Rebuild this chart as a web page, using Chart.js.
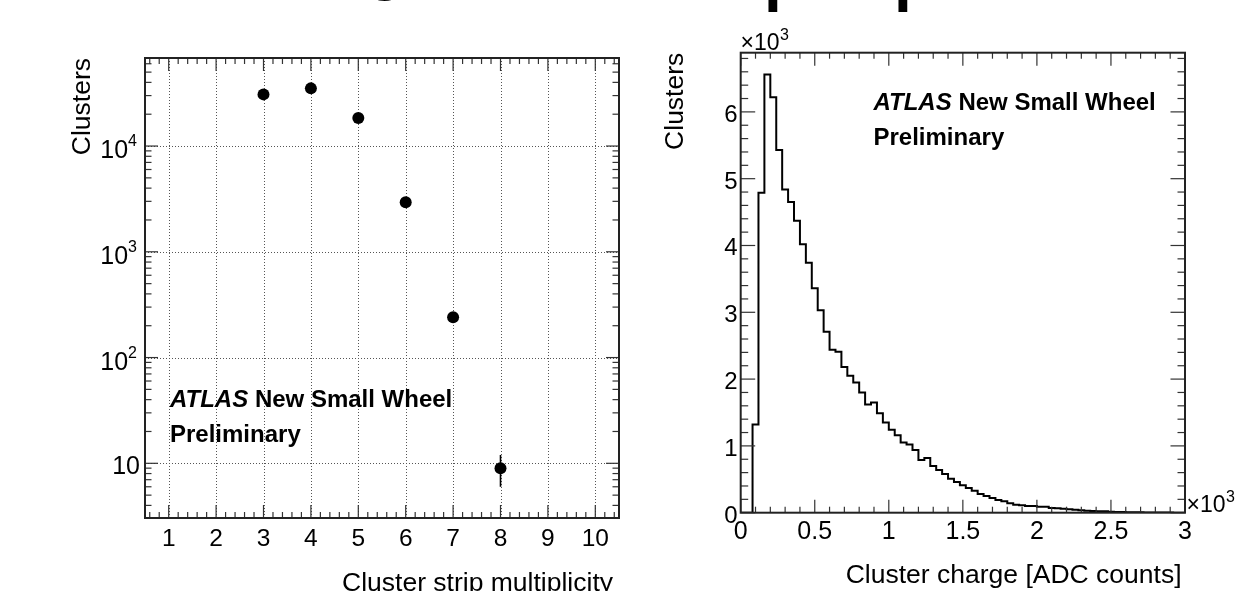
<!DOCTYPE html>
<html>
<head>
<meta charset="utf-8">
<script src="https://cdn.jsdelivr.net/npm/chart.js@4/dist/chart.umd.min.js"></script>
<style>
    html, body { margin: 0; padding: 0; background: #fff; }
    #wrap { position: relative; width: 1245px; height: 591px; overflow: hidden; }
    canvas { position: absolute; top: 0; }
    #mult_chart { left: 0; }
    #charge_chart { left: 630px; }
</style>
</head>
<body>
<div id="wrap">
    <canvas id="mult_chart" width="630" height="591"></canvas>
    <canvas id="charge_chart" width="615" height="591"></canvas>
</div>
<script>
// left pad: cluster strip multiplicity (log y)
const multStrips = [3, 4, 5, 6, 7, 8];
const multClusters = [30800, 35100, 18400, 2940, 240, 9];
const multErrors = [175, 187, 136, 54, 15, 3];
const multXTicks = [1, 2, 3, 4, 5, 6, 7, 8, 9, 10];
const multYTicks = [10, 100, 1000, 10000];
const multYTickExp = ['', '2', '3', '4'];

// right pad: cluster charge histogram, 40 ADC count bins from 0 to 3000
const chargeBinWidth = 40;
const chargeCounts = [
    0, 0, 1320, 4790, 6560, 6220, 5430, 4840, 4650, 4370,
    4020, 3740, 3360, 3030, 2710, 2440, 2410, 2180, 2050, 1950,
    1800, 1620, 1650, 1490, 1350, 1240, 1160, 1050, 1020, 940,
    790, 820, 700, 640, 580, 510, 460, 410, 370, 330,
    280, 250, 220, 190, 170, 140, 120, 110, 100, 100,
    90, 90, 70, 65, 60, 50, 45, 35, 30, 25,
    20, 20, 15, 12, 10, 8, 6, 5, 4, 3,
    3, 2, 2, 1, 1
];
const chargeXTicks = [0, 500, 1000, 1500, 2000, 2500, 3000];
const chargeXLabels = ['0', '0.5', '1', '1.5', '2', '2.5', '3'];
const chargeYTicks = [0, 1000, 2000, 3000, 4000, 5000, 6000];
const chargeYLabels = ['0', '1', '2', '3', '4', '5', '6'];

const FONT = '"Liberation Sans", Arial, Helvetica, sans-serif';

function draw_line(ctx, x1, y1, x2, y2) {
    ctx.beginPath();
    ctx.moveTo(x1, y1);
    ctx.lineTo(x2, y2);
    ctx.stroke();
}

function draw_text(ctx, txt, x, y, font, align) {
    ctx.font = font;
    ctx.textAlign = align || 'left';
    ctx.textBaseline = 'alphabetic';
    ctx.fillStyle = '#000';
    ctx.fillText(txt, x, y);
}

// ROOT style frame with ticks inside on all four sides
function draw_frame(chart, xTicks, yTicks) {
    var ctx = chart.ctx, a = chart.chartArea;
    var xs = chart.scales.x, ys = chart.scales.y;
    ctx.save();
    ctx.strokeStyle = '#333';
    ctx.lineWidth = 1.2;
    xTicks.forEach(function (t) {
        var px = xs.getPixelForValue(t[0]);
        draw_line(ctx, px, a.bottom, px, a.bottom - t[1]);
        draw_line(ctx, px, a.top, px, a.top + t[1]);
    });
    yTicks.forEach(function (t) {
        var py = ys.getPixelForValue(t[0]);
        draw_line(ctx, a.left, py, a.left + t[1], py);
        draw_line(ctx, a.right, py, a.right - t[1], py);
    });
    ctx.strokeStyle = '#222';
    ctx.lineWidth = 2;
    ctx.strokeRect(a.left, a.top, a.right - a.left, a.bottom - a.top);
    ctx.restore();
}

function draw_atlas(ctx, x, y1, y2) {
    ctx.font = 'italic bold 24px ' + FONT;
    var w = ctx.measureText('ATLAS').width;
    draw_text(ctx, 'ATLAS', x, y1, 'italic bold 24px ' + FONT);
    draw_text(ctx, ' New Small Wheel', x + w, y1, 'bold 24px ' + FONT);
    draw_text(ctx, 'Preliminary', x, y2, 'bold 24px ' + FONT);
}

function draw_ytitle(ctx, txt, x, yTop) {
    ctx.save();
    ctx.translate(x, yTop);
    ctx.rotate(-Math.PI / 2);
    draw_text(ctx, txt, 0, 0, '26.5px ' + FONT, 'right');
    ctx.restore();
}

// ---- left chart ----
var multXTickList = [];
for (var k = 0; k <= 10; k++) {
    if (k >= 1) multXTickList.push([k, 13]);
    for (var j = 1; j <= 4; j++) {
        var v = k + 0.2 * j;
        if (v > 0.5 && v < 10.5) multXTickList.push([v, 6]);
    }
}
var multYTickList = [];
[1, 10, 100, 1000, 10000].forEach(function (d) {
    if (d >= 10) multYTickList.push([d, 13]);
    for (var m = 2; m <= 9; m++) {
        if (m * d >= 3.04 && m * d <= 68000) multYTickList.push([m * d, 6.5]);
    }
});

var multPlugin = {
    id: 'multRoot',
    beforeDatasetsDraw: function (chart) {
        var ctx = chart.ctx, a = chart.chartArea;
        ctx.save();
        ctx.strokeStyle = '#555';
        ctx.lineWidth = 1;
        ctx.setLineDash([1, 2]);
        multXTicks.forEach(function (v) {
            var px = Math.round(chart.scales.x.getPixelForValue(v)) + 0.5;
            draw_line(ctx, px, a.top, px, a.bottom);
        });
        multYTicks.forEach(function (v) {
            var py = Math.round(chart.scales.y.getPixelForValue(v)) + 0.5;
            draw_line(ctx, a.left, py, a.right, py);
        });
        ctx.restore();
    },
    afterDatasetsDraw: function (chart) {
        var ctx = chart.ctx;
        ctx.save();
        ctx.strokeStyle = '#000';
        ctx.lineWidth = 1.6;
        multStrips.forEach(function (s, i) {
            var px = chart.scales.x.getPixelForValue(s);
            var lo = chart.scales.y.getPixelForValue(multClusters[i] - multErrors[i]);
            var hi = chart.scales.y.getPixelForValue(multClusters[i] + multErrors[i]);
            draw_line(ctx, px, lo, px, hi);
        });
        ctx.restore();
    },
    afterDraw: function (chart) {
        var ctx = chart.ctx;
        draw_frame(chart, multXTickList, multYTickList);
        multXTicks.forEach(function (v) {
            draw_text(ctx, String(v), chart.scales.x.getPixelForValue(v), 546, '24.5px ' + FONT, 'center');
        });
        multYTicks.forEach(function (v, i) {
            var py = chart.scales.y.getPixelForValue(v);
            var exp = multYTickExp[i];
            if (exp === '') {
                draw_text(ctx, '10', 140, py + 10.5, '25px ' + FONT, 'right');
            } else {
                ctx.font = '16px ' + FONT;
                var ew = ctx.measureText(exp).width;
                draw_text(ctx, exp, 137, py, '16px ' + FONT, 'right');
                draw_text(ctx, '10', 137 - ew, py + 12, '25px ' + FONT, 'right');
            }
        });
        draw_ytitle(ctx, 'Clusters', 90, 58);
        draw_text(ctx, 'Cluster strip multiplicity', 613, 590.5, '26.5px ' + FONT, 'right');
        draw_atlas(ctx, 170, 407, 442);
        // bottom of the slide title, cut off at the top edge
        draw_text(ctx, 'g', 366, -12.5, 'bold 64px ' + FONT, 'left');
    }
};

new Chart(document.getElementById('mult_chart'), {
    type: 'scatter',
    data: {
        datasets: [{
            data: multStrips.map(function (s, i) { return {x: s, y: multClusters[i]}; }),
            backgroundColor: '#000',
            borderColor: '#000',
            pointRadius: 6,
            pointHoverRadius: 6,
            borderWidth: 0
        }]
    },
    options: {
        responsive: false,
        animation: false,
        layout: {padding: {left: 145, top: 58, right: 11, bottom: 73}},
        plugins: {legend: {display: false}, tooltip: {enabled: false}},
        scales: {
            x: {type: 'linear', min: 0.5, max: 10.5, display: false},
            y: {type: 'logarithmic', min: 3.04, max: 68000, display: false}
        }
    },
    plugins: [multPlugin]
});

// ---- right chart ----
var chargePoints = chargeCounts.map(function (c, i) { return {x: i * chargeBinWidth, y: c}; });
chargePoints.push({x: chargeCounts.length * chargeBinWidth, y: chargeCounts[chargeCounts.length - 1]});

var chargeXTickList = [];
for (var q = 0; q <= 3000; q += 100) chargeXTickList.push([q, q % 500 === 0 ? 13 : 6]);
var chargeYTickList = [];
for (var r = 0; r <= 6886; r += 200) chargeYTickList.push([r, r % 1000 === 0 ? 14.5 : 7.5]);

function draw_times_ten(ctx, x, y) {
    ctx.font = '23px ' + FONT;
    var w = ctx.measureText('\u00d710').width;
    draw_text(ctx, '\u00d710', x, y, '23px ' + FONT, 'left');
    draw_text(ctx, '3', x + w + 0.5, y - 10, '16px ' + FONT, 'left');
}

var chargePlugin = {
    id: 'chargeRoot',
    afterDraw: function (chart) {
        var ctx = chart.ctx;
        draw_frame(chart, chargeXTickList, chargeYTickList);
        chargeXTicks.forEach(function (v, i) {
            draw_text(ctx, chargeXLabels[i], chart.scales.x.getPixelForValue(v), 538.5, '25px ' + FONT, 'center');
        });
        chargeYTicks.forEach(function (v, i) {
            draw_text(ctx, chargeYLabels[i], 107.5, chart.scales.y.getPixelForValue(v) + 10, '24px ' + FONT, 'right');
        });
        draw_times_ten(ctx, 110.5, 50);
        draw_times_ten(ctx, 556.5, 511.5);
        draw_ytitle(ctx, 'Clusters', 53, 52.7);
        draw_text(ctx, 'Cluster charge [ADC counts]', 551.5, 582.5, '26.5px ' + FONT, 'right');
        draw_atlas(ctx, 243.5, 110, 145);
        draw_text(ctx, 'p', 134, -1, 'bold 64px ' + FONT, 'left');
        draw_text(ctx, 'p', 264, -1, 'bold 64px ' + FONT, 'left');
    }
};

new Chart(document.getElementById('charge_chart'), {
    type: 'line',
    data: {
        datasets: [{
            data: chargePoints,
            stepped: 'before',
            borderColor: '#000',
            borderWidth: 2,
            pointRadius: 0,
            fill: false
        }]
    },
    options: {
        responsive: false,
        animation: false,
        layout: {padding: {left: 110.7, top: 52.7, right: 60, bottom: 78.3}},
        plugins: {legend: {display: false}, tooltip: {enabled: false}},
        scales: {
            x: {type: 'linear', min: 0, max: 3000, display: false},
            y: {type: 'linear', min: 0, max: 6886, display: false}
        }
    },
    plugins: [chargePlugin]
});
</script>
</body>
</html>
